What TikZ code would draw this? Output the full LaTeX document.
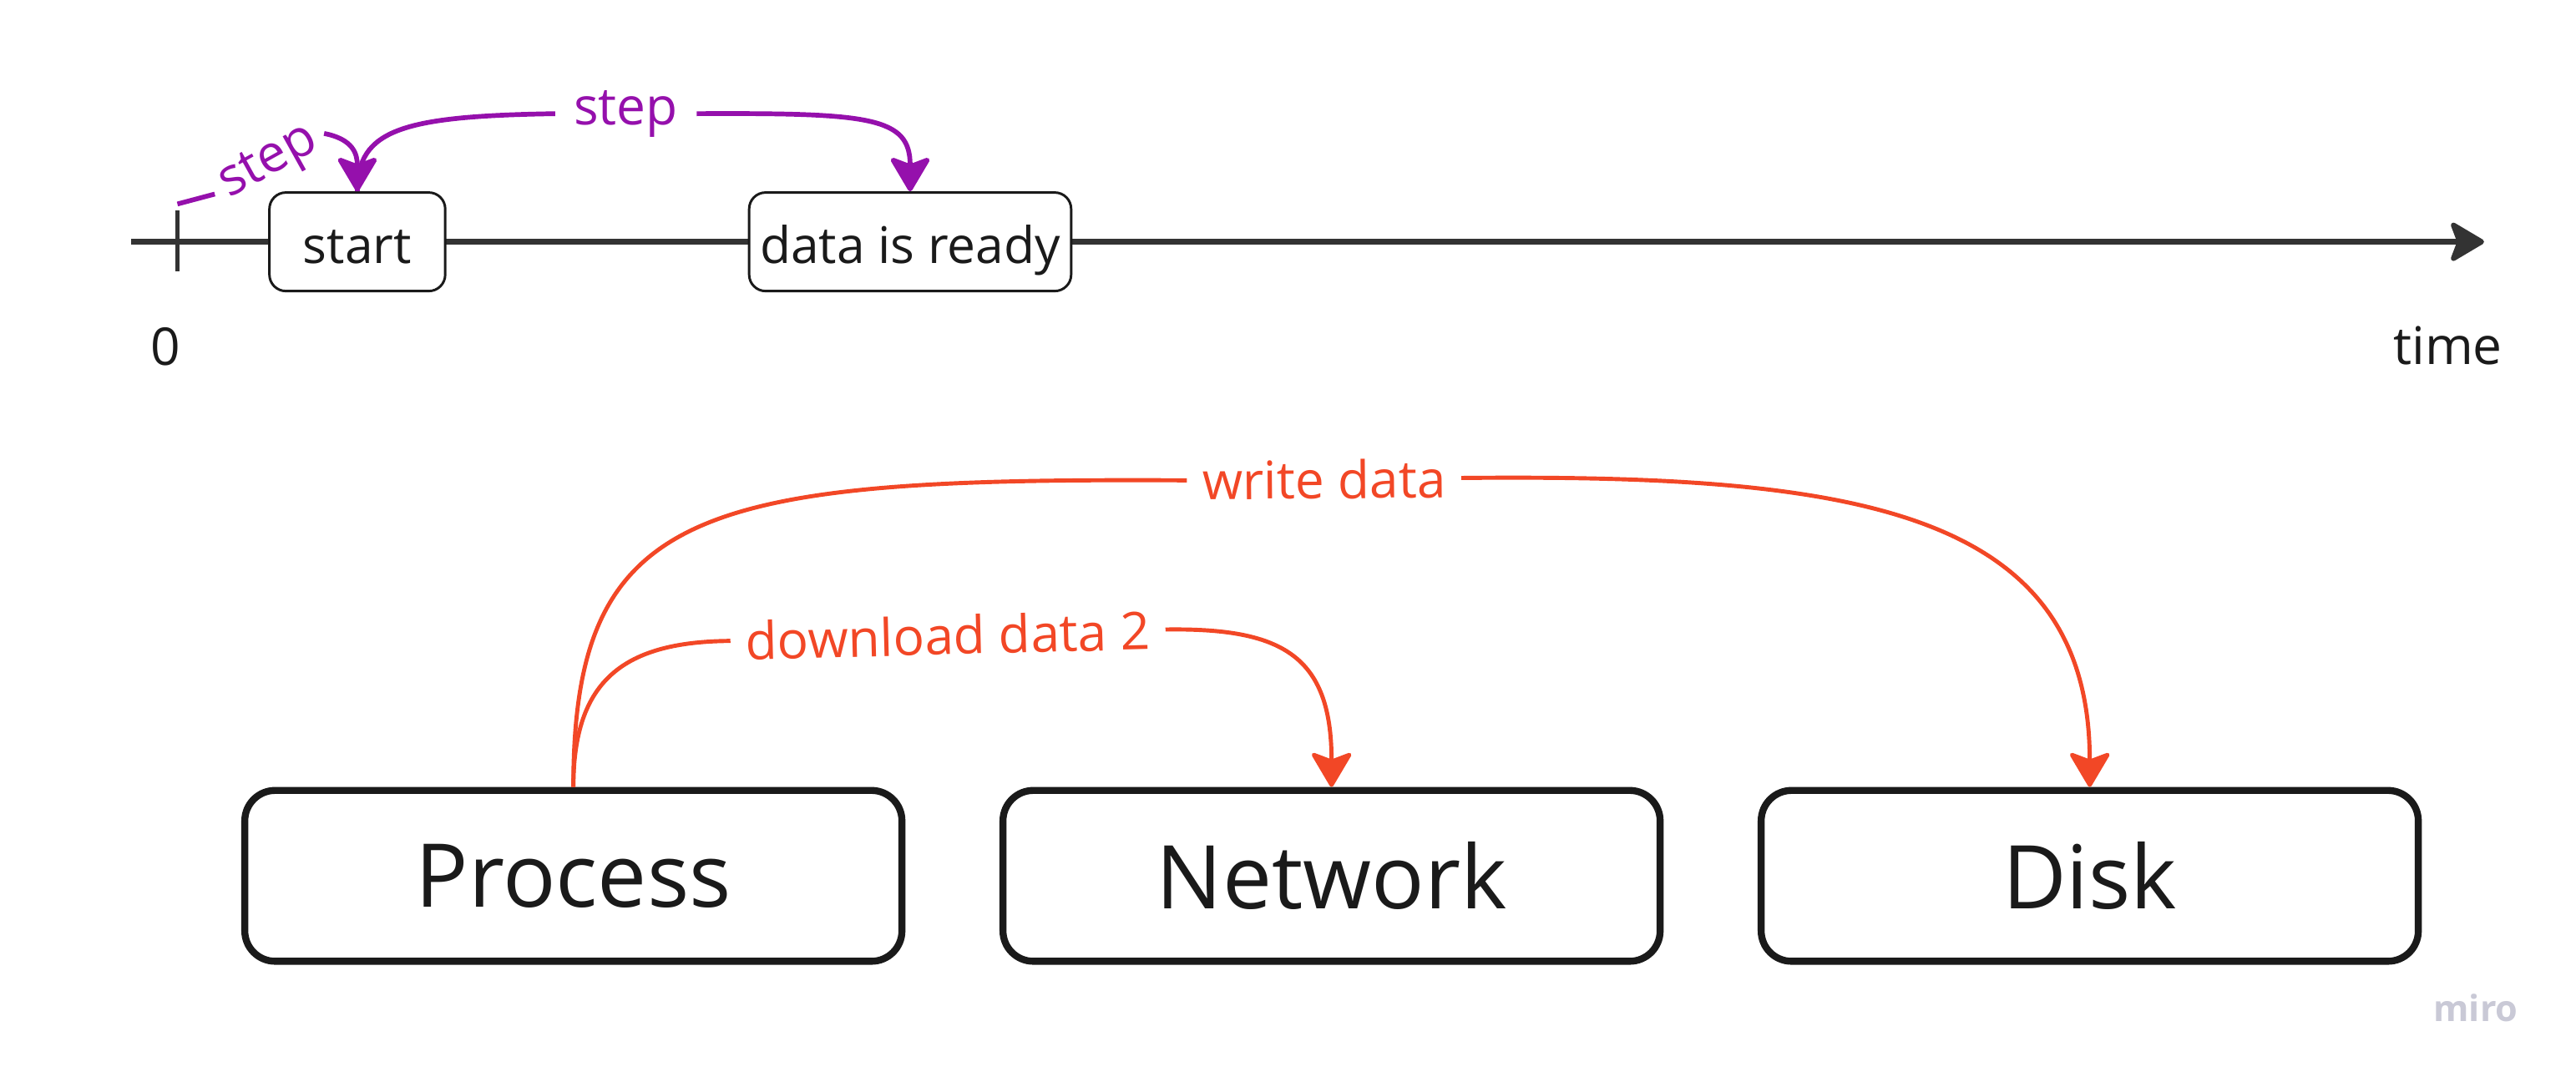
\documentclass[tikz,border=0pt]{standalone}
\usepackage{fontspec}
\setmainfont{Open Sans}
\usetikzlibrary{arrows.meta}
\definecolor{axisgray}{HTML}{333333}
\definecolor{boxblack}{HTML}{1A1A1A}
\definecolor{stepviolet}{HTML}{9510AC}
\definecolor{flowred}{HTML}{F24726}
\definecolor{logogray}{HTML}{C9C9D6}
\tikzset{
  tip/.style={-{Stealth[length=0.46cm,width=0.54cm,inset=0.1cm,round]}},
  eventbox/.style={draw=boxblack,fill=white,line width=0.03cm,rounded corners=0.2cm,
    minimum height=1.2cm,inner xsep=0.1cm,text height=0.62cm,text depth=0.1cm,
    text=boxblack,font=\fontsize{17.5}{21}\selectfont},
  partbox/.style={draw=boxblack,fill=white,line width=0.085cm,rounded corners=0.37cm,
    minimum width=8cm,minimum height=2.08cm,text=boxblack,font=\fontsize{30.5}{36}\selectfont},
  violetline/.style={draw=stepviolet,line width=0.058cm},
  redline/.style={draw=flowred,line width=0.05cm},
  steplabel/.style={text=stepviolet,inner xsep=0.22cm,inner ysep=0cm},
  flowlabel/.style={text=flowred,inner xsep=0.18cm,inner ysep=0cm}
}
\begin{document}
\begin{tikzpicture}
                        \useasboundingbox (0,0) rectangle (31.360000,13.174000);
                        {\fontsize{18}{22}\selectfont

                        % Drawing time axis
                        \coordinate (axisstart) at (1.600000,10.230000);
                        \coordinate (axisend) at (30.240000,10.230000);
                        \draw [tip,draw=axisgray,line width=0.064cm] (axisstart) -- (axisend);%

                        % Marking point 0 by tick
                        \coordinate (ticktop) at (2.160000,10.610000);
                        \coordinate (tickbottom) at (2.160000,9.870000);
                        \draw [draw=axisgray,line width=0.05cm] (ticktop) -- (tickbottom);%
                        \node [text=boxblack] (zero) at (2.020000,8.950000) { 0 };%
                        \node [text=boxblack] (time) at (29.800000,8.970000) { time };%

                        % Marking events start and data is ready
                        \node [eventbox,minimum width=2.14cm] (start) at (4.350000,10.230000) { start };%
                        \node [eventbox,minimum width=3.92cm] (ready) at (11.080000,10.230000) { data is ready };%

                        % Drawing arc step from 0 to start
                        \coordinate (stepfoot) at (2.160000,10.690000);
                        \node [steplabel,inner xsep=0.12cm,rotate=29] (firststep) at (3.280000,11.180000) { step };%
                        \draw [violetline] (stepfoot) -- (firststep.west);%
                        \draw [violetline,tip] (firststep.east) .. controls (4.300000,11.480000) and (4.350000,11.300000) .. (start.north);%

                        % Drawing arc step from start to data is ready
                        \node [steplabel] (secondstep) at (7.620000,11.790000) { step };%
                        \draw [violetline] (start.north) .. controls (4.350000,11.600000) and (4.900000,11.760000) .. (secondstep.west);%
                        \draw [violetline,tip] (secondstep.east) .. controls (10.600000,11.800000) and (11.080000,11.750000) .. (ready.north);%

                        % Marking parts Process, Network and Disk
                        \node [partbox] (process) at (6.980000,2.510000) { Process };%
                        \node [partbox] (network) at (16.210000,2.510000) { Network };%
                        \node [partbox] (disk) at (25.440000,2.510000) { Disk };%

                        % Drawing arc download data 2
                        \node [flowlabel,rotate=1.5] (download) at (11.540000,5.440000) { download data 2 };%
                        \draw [redline] (process.north) .. controls (6.980000,4.900000) and (7.600000,5.360000) .. (download.west);%
                        \draw [redline,tip] (download.east) .. controls (15.600000,5.530000) and (16.210000,5.200000) .. (network.north);%

                        % Drawing arc write data
                        \node [flowlabel,rotate=0.5] (write) at (16.120000,7.340000) { write data };%
                        \draw [redline] (process.north) .. controls (6.980000,7.000000) and (8.500000,7.360000) .. (write.west);%
                        \draw [redline,tip] (write.east) .. controls (22.500000,7.400000) and (25.440000,7.000000) .. (disk.north);%

                        % Marking logo
                        \node [text=logogray,font=\bfseries\fontsize{12.5}{15}\selectfont] (logo) at (30.140000,0.900000) { miro };%
                        }
                    \end{tikzpicture}
\end{document}
